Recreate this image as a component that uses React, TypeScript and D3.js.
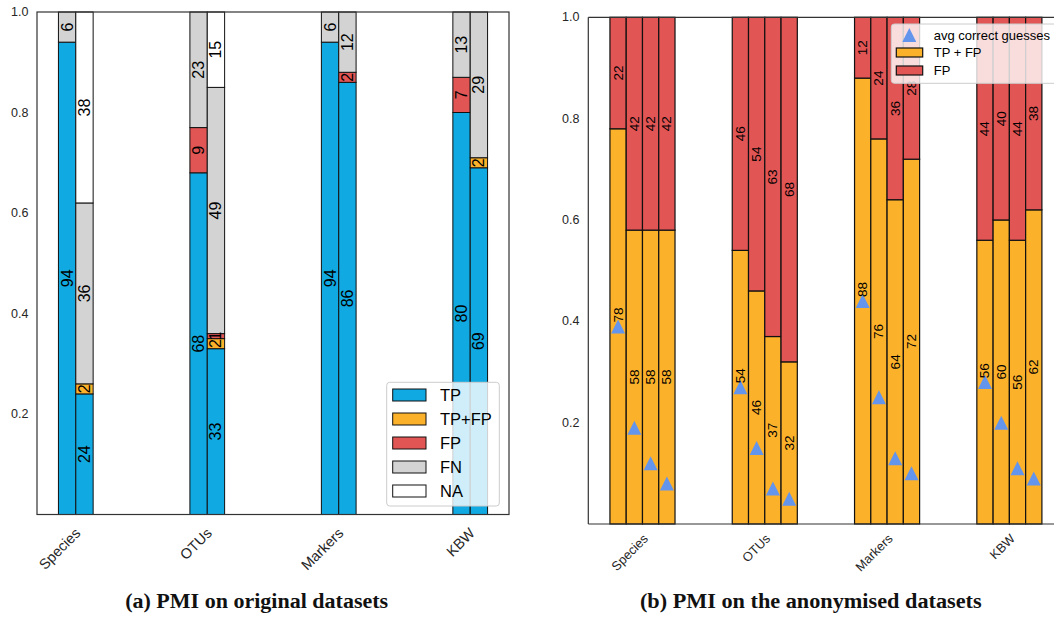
import React from "react";
import * as d3 from "d3";

// ---------- shared ----------
const categories = ["Species", "OTUs", "Markers", "KBW"];
const yTicks = [0.2, 0.4, 0.6, 0.8, 1.0];

// ---------- (a) PMI on original datasets: two stacked bars per category ----------
const segmentNames = ["TP", "TP+FP", "FP", "FN", "NA"];
const segmentColors = ["#10a9e1", "#fcb12b", "#e25555", "#d3d3d3", "#ffffff"];
const barA_TP = [94, 68, 94, 80];
const barA_TPFP = [0, 0, 0, 0];
const barA_FP = [0, 9, 0, 7];
const barA_FN = [6, 23, 6, 13];
const barA_NA = [0, 0, 0, 0];
const barB_TP = [24, 33, 86, 69];
const barB_TPFP = [2, 2, 0, 2];
const barB_FP = [0, 1, 2, 0];
const barB_FN = [36, 49, 12, 29];
const barB_NA = [38, 15, 0, 0];

// ---------- (b) PMI on the anonymised datasets: four stacked bars per category ----------
const rightNames = ["avg correct guesses", "TP + FP", "FP"];
const rightTPFP = [
  [78, 58, 58, 58],
  [54, 46, 37, 32],
  [88, 76, 64, 72],
  [56, 60, 56, 62],
];
const rightFP = [
  [22, 42, 42, 42],
  [46, 54, 63, 68],
  [12, 24, 36, 28],
  [44, 40, 44, 38],
];
const avgCorrect = [
  [0.39, 0.19, 0.12, 0.08],
  [0.27, 0.15, 0.07, 0.05],
  [0.44, 0.25, 0.13, 0.1],
  [0.28, 0.2, 0.11, 0.09],
];

const SANS = "'Liberation Sans', Arial, Helvetica, sans-serif";
const SERIF = "'Liberation Serif', 'Times New Roman', serif";
const AXIS = "#333333";
const EDGE = "#111111";
const TRI = "#6495ed";

function LeftChart() {
  const x0 = 37, x1 = 509, yTop = 12, yBot = 514.5;
  const x = d3.scaleLinear().domain([-0.295, 3.295]).range([x0, x1]);
  const y = d3.scaleLinear().domain([0, 1]).range([yBot, yTop]);
  const W = 0.132;
  const barsA = [barA_TP, barA_TPFP, barA_FP, barA_FN, barA_NA];
  const barsB = [barB_TP, barB_TPFP, barB_FP, barB_FN, barB_NA];
  const rects: any[] = [];
  const labels: any[] = [];
  categories.forEach((c, i) => {
    [barsA, barsB].forEach((bars, b) => {
      const off = b === 0 ? -W / 2 : W / 2;
      const xl = x(i + off - W / 2);
      const xr = x(i + off + W / 2);
      let cum = 0;
      bars.forEach((series, s) => {
        const v = series[i];
        if (v <= 0) return;
        const lo = cum / 100;
        const hi = (cum + v) / 100;
        cum += v;
        rects.push(
          <rect key={`r${i}-${b}-${s}`} x={xl} y={y(hi)} width={xr - xl} height={y(lo) - y(hi)}
            fill={segmentColors[s]} stroke={EDGE} strokeWidth={1} />
        );
        const cx = (xl + xr) / 2;
        const cy = y((lo + hi) / 2);
        labels.push(
          <text key={`t${i}-${b}-${s}`} x={cx} y={cy} transform={`rotate(-90 ${cx} ${cy})`}
            textAnchor="middle" dominantBaseline="central" fontSize={16} fill="#000">{v}</text>
        );
      });
    });
  });
  const legendRows = [395, 419, 443, 467, 491];
  return (
    <g fontFamily={SANS}>
      {rects}
      {labels}
      <rect x={x0} y={yTop} width={x1 - x0} height={yBot - yTop} fill="none" stroke={AXIS} strokeWidth={1.2} />
      {yTicks.map((t) => (
        <text key={t} x={28.5} y={y(t)} textAnchor="end" dominantBaseline="central" fontSize={12.5} fill="#262626">
          {t.toFixed(1)}
        </text>
      ))}
      {categories.map((c, i) => {
        const ax = x(i) + 2, ay = 530.5;
        return (
          <text key={c} x={ax} y={ay} dy="0.35em" transform={`rotate(-45 ${ax} ${ay})`} textAnchor="end"
            fontSize={14.5} fill="#262626">{c}</text>
        );
      })}
      <rect x={386.7} y={382.3} width={112.6} height={123.7} rx={3} fill="#ffffff" fillOpacity={0.8}
        stroke="#cccccc" strokeWidth={1} />
      {segmentNames.map((n, k) => (
        <g key={n}>
          <rect x={392.7} y={legendRows[k] - 6} width={33.3} height={12} fill={segmentColors[k]} stroke={EDGE} strokeWidth={1} />
          <text x={440} y={legendRows[k]} dominantBaseline="central" fontSize={16.5} fill="#000">{n}</text>
        </g>
      ))}
    </g>
  );
}

function RightChart() {
  const x0 = 588.3, yTop = 17.3, yBot = 524;
  const unit = 122.3;
  const x = d3.scaleLinear().domain([-0.443, 3.443]).range([x0, x0 + 3.886 * unit]);
  const y = d3.scaleLinear().domain([0, 1]).range([yBot, yTop]);
  const W = 0.133;
  const rects: any[] = [];
  const labels: any[] = [];
  const tris: any[] = [];
  categories.forEach((c, i) => {
    for (let b = 0; b < 4; b++) {
      const off = (b - 1.5) * W;
      const xl = x(i + off - W / 2);
      const xr = x(i + off + W / 2);
      const cx = (xl + xr) / 2;
      const tp = rightTPFP[i][b];
      const fp = rightFP[i][b];
      const hTop = (tp + fp) / 100;
      rects.push(
        <rect key={`o${i}-${b}`} x={xl} y={y(tp / 100)} width={xr - xl} height={y(0) - y(tp / 100)}
          fill={segmentColors[1]} stroke={EDGE} strokeWidth={1.2} />
      );
      rects.push(
        <rect key={`f${i}-${b}`} x={xl} y={y(hTop)} width={xr - xl} height={y(tp / 100) - y(hTop)}
          fill={segmentColors[2]} stroke={EDGE} strokeWidth={1.2} />
      );
      const cyO = y(tp / 200) - (b === 0 ? 11.5 : 0);
      const cyF = y((tp / 100 + hTop) / 2);
      labels.push(
        <text key={`lo${i}-${b}`} x={cx} y={cyO} transform={`rotate(-90 ${cx} ${cyO})`} textAnchor="middle"
          dominantBaseline="central" fontSize={13.5} fill="#000">{tp}</text>
      );
      labels.push(
        <text key={`lf${i}-${b}`} x={cx} y={cyF} transform={`rotate(-90 ${cx} ${cyF})`} textAnchor="middle"
          dominantBaseline="central" fontSize={13.5} fill="#000">{fp}</text>
      );
      const ty = y(avgCorrect[i][b]);
      tris.push(
        <polygon key={`tr${i}-${b}`} points={`${cx},${ty - 7} ${cx - 7},${ty + 7} ${cx + 7},${ty + 7}`} fill={TRI} />
      );
    }
  });
  const xEnd = x0 + 3.886 * unit;
  return (
    <g fontFamily={SANS}>
      {rects}
      {tris}
      {labels}
      <line x1={x0} y1={yTop} x2={x0} y2={yBot} stroke={AXIS} strokeWidth={1.2} />
      <line x1={x0} y1={yTop} x2={xEnd} y2={yTop} stroke={AXIS} strokeWidth={1.2} />
      <line x1={x0} y1={yBot} x2={xEnd} y2={yBot} stroke={AXIS} strokeWidth={1.2} />
      {yTicks.map((t) => (
        <text key={t} x={579.5} y={y(t)} textAnchor="end" dominantBaseline="central" fontSize={12.5} fill="#262626">
          {t.toFixed(1)}
        </text>
      ))}
      {categories.map((c, i) => {
        const ax = x(i) + 3.2, ay = 536.3;
        return (
          <text key={c} x={ax} y={ay} dy="0.35em" transform={`rotate(-45 ${ax} ${ay})`} textAnchor="end"
            fontSize={12.8} fill="#262626">{c}</text>
        );
      })}
      <rect x={891.3} y={24} width={200} height={59.3} rx={3} fill="#ffffff" fillOpacity={0.8}
        stroke="#cccccc" strokeWidth={1} />
      <polygon points={`909.3,28 902.3,42 916.3,42`} fill={TRI} />
      <text x={933.7} y={35} dominantBaseline="central" fontSize={13} fill="#000">{rightNames[0]}</text>
      <rect x={896.3} y={48} width={26.4} height={9} fill={segmentColors[1]} stroke={EDGE} strokeWidth={1.2} />
      <text x={933.7} y={52.5} dominantBaseline="central" fontSize={13} fill="#000">{rightNames[1]}</text>
      <rect x={896.3} y={66} width={26.4} height={9} fill={segmentColors[2]} stroke={EDGE} strokeWidth={1.2} />
      <text x={933.7} y={70.5} dominantBaseline="central" fontSize={13} fill="#000">{rightNames[2]}</text>
    </g>
  );
}

export default function App() {
  return (
    <svg width={1054} height={618} style={{ position: "absolute", left: 0, top: 0, background: "#fff" }}>
      <rect x={0} y={0} width={1054} height={618} fill="#fff" />
      <LeftChart />
      <RightChart />
      <text x={256.7} y={608} textAnchor="middle" fontFamily={SERIF} fontWeight="bold" fontSize={20}
        textLength={263} lengthAdjust="spacingAndGlyphs" fill="#111">(a) PMI on original datasets</text>
      <text x={810.8} y={608} textAnchor="middle" fontFamily={SERIF} fontWeight="bold" fontSize={20}
        textLength={341.7} lengthAdjust="spacingAndGlyphs" fill="#111">(b) PMI on the anonymised datasets</text>
    </svg>
  );
}
